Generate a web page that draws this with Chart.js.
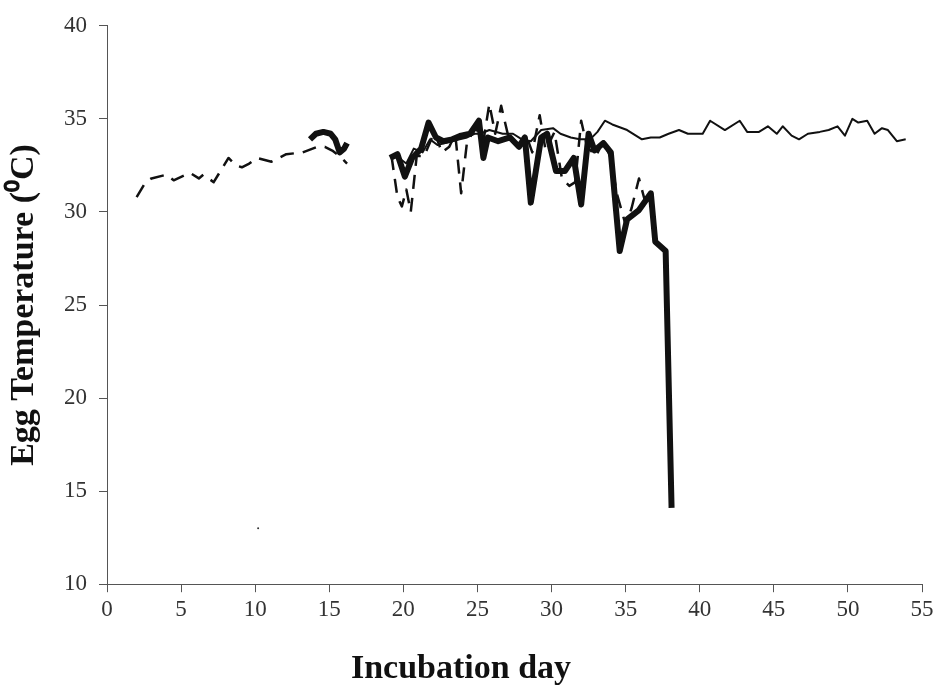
<!DOCTYPE html>
<html>
<head>
<meta charset="utf-8">
<script src="https://cdn.jsdelivr.net/npm/chart.js@4/dist/chart.umd.min.js"></script>
<style>
  body { margin: 0; background: #fff; }
  #wrap { width: 941px; height: 695px; }
</style>
</head>
<body>
<div id="wrap"><canvas id="egg-chart" width="941" height="695"></canvas></div>
<script>
'use strict';

// ---- data ----
const xTicks = [0, 5, 10, 15, 20, 25, 30, 35, 40, 45, 50, 55];
const yTicks = [10, 15, 20, 25, 30, 35, 40];

// dashed egg (null = no logging between day 16 and 19)
const dashedDays = [2.0, 2.6, 3.0, 4.0, 4.5, 5.6, 6.2, 6.5, 7.2, 8.2, 8.7, 9.1, 9.6, 10.1, 11.1, 12.1, 13.2, 14.2, 14.7, 15.2, 15.7, 16.2,
	17.5,
	19.2, 19.6, 19.9, 20.2, 20.5, 20.9, 21.4, 22.1, 22.6, 23.1, 23.5, 23.9, 24.3, 24.9, 25.4, 25.8, 26.2, 26.6, 27.1, 27.7,
	28.3, 28.7, 29.2, 29.6, 30.2, 30.7, 31.2, 31.6, 32.0, 32.4, 33.0, 33.5, 34.0, 34.4, 35.0, 35.4, 35.9, 36.3];
const dashedTemps = [30.8, 31.6, 31.8, 32.0, 31.7, 32.1, 31.8, 32.0, 31.6, 32.9, 32.5, 32.4, 32.6, 32.9, 32.7, 33.1, 33.2, 33.5, 33.5, 33.3, 33.0, 32.6,
	null,
	33.0, 30.8, 30.3, 31.2, 30.0, 33.0, 33.0, 34.3, 33.2, 33.5, 34.2, 31.0, 33.8, 34.5, 33.8, 35.8, 34.2, 35.7, 34.0, 33.6,
	34.1, 33.2, 35.2, 33.3, 34.3, 31.8, 31.4, 31.6, 34.9, 33.5, 33.0, 33.8, 32.9, 31.0, 29.3, 30.2, 31.8, 30.6];

// thick egg, dies around day 38
const thickDays = [13.7, 14.1, 14.6, 15.1, 15.4, 15.7, 16.0, 16.2,
	17.5,
	19.1, 19.6, 20.1, 20.6, 21.2, 21.7, 22.2, 22.7, 23.3, 23.9, 24.5, 25.1, 25.4, 25.7, 26.4, 27.2, 27.8, 28.2, 28.6,
	29.3, 29.7, 30.3, 30.9, 31.5, 32.0, 32.5, 32.9, 33.5, 34.0, 34.6, 35.1, 35.9, 36.7, 37.0, 37.7, 38.1];
const thickTemps = [33.9, 34.2, 34.3, 34.2, 33.9, 33.2, 33.4, 33.7,
	null,
	32.9, 33.1, 31.9, 32.9, 33.4, 34.8, 34.0, 33.8, 33.9, 34.1, 34.2, 34.9, 32.9, 34.0, 33.8, 34.0, 33.5, 34.0, 30.5,
	34.0, 34.2, 32.2, 32.2, 32.9, 30.4, 34.2, 33.3, 33.7, 33.2, 27.9, 29.6, 30.1, 31.0, 28.4, 27.9, 14.1];

// thin egg, logged to the end
const thinDays = [19.2, 19.7, 20.2, 20.7, 21.3, 21.8, 22.3, 22.8, 23.3, 23.8, 24.3, 24.8, 25.2, 25.8, 26.7, 27.4, 28.0, 28.6,
	29.3, 30.1, 30.6, 31.3, 31.9, 32.6, 33.1, 33.6, 34.1, 35.1, 36.1, 36.7, 37.3, 37.9, 38.6, 39.2, 39.7, 40.2, 40.7,
	41.7, 42.7, 43.2, 44.0, 44.6, 45.2, 45.6, 46.2, 46.7, 47.3, 48.1, 48.7, 49.3, 49.8, 50.3, 50.7, 51.3, 51.8, 52.3,
	52.7, 53.3, 53.9];
const thinTemps = [33.0, 32.9, 32.6, 33.4, 33.2, 33.9, 33.6, 33.7, 33.8, 33.9, 34.0, 34.2, 34.2, 34.4, 34.2, 34.2, 33.9, 33.8,
	34.4, 34.5, 34.2, 34.0, 33.9, 33.9, 34.3, 34.9, 34.7, 34.4, 33.9, 34.0, 34.0, 34.2, 34.4, 34.2, 34.2, 34.2, 34.9,
	34.4, 34.9, 34.3, 34.3, 34.6, 34.2, 34.6, 34.1, 33.9, 34.2, 34.3, 34.4, 34.6, 34.1, 35.0, 34.8, 34.9, 34.2, 34.5,
	34.4, 33.8, 33.9];

// lone reading near the bottom
const strayDays = [10.2];
const strayTemps = [13.0];

const INK = '#111';
const AXIS = '#555';
const SERIF = "'Liberation Serif', 'Times New Roman', serif";

function toPoints(days, temps) {
	return days.map((d, i) => ({ x: d, y: temps[i] }));
}

function lineSet(days, temps, width, dash) {
	return {
		data: toPoints(days, temps),
		borderColor: INK,
		borderWidth: width,
		borderDash: dash,
		borderJoinStyle: 'round',
		borderCapStyle: 'butt',
		pointRadius: 0,
		tension: 0,
		spanGaps: false,
		fill: false,
	};
}

function getDatasets() {
	return [
		lineSet(thinDays, thinTemps, 2, []),
		lineSet(dashedDays, dashedTemps, 2.5, [14, 9]),
		lineSet(thickDays, thickTemps, 6, []),
		{
			data: toPoints(strayDays, strayTemps),
			showLine: false,
			pointRadius: 1,
			pointBackgroundColor: '#333',
			pointBorderWidth: 0,
		},
	];
}

function getX() {
	return {
		type: 'linear',
		min: 0,
		max: 55,
		afterBuildTicks: (axis) => { axis.ticks = xTicks.map((v) => ({ value: v })); },
		afterFit: (axis) => { axis.height = 50; },
		ticks: {
			color: '#333',
			padding: 4,
			maxRotation: 0,
			font: { family: SERIF, size: 23 },
		},
		grid: { display: true, drawOnChartArea: false, drawTicks: true, tickLength: 8, color: AXIS },
		border: { display: true, color: AXIS, width: 1 },
	};
}

function getY() {
	return {
		min: 10,
		max: 40,
		afterBuildTicks: (axis) => { axis.ticks = yTicks.map((v) => ({ value: v })); },
		afterFit: (axis) => { axis.width = 107; },
		ticks: {
			color: '#333',
			padding: 12,
			font: { family: SERIF, size: 23 },
		},
		grid: { display: true, drawOnChartArea: false, drawTicks: true, tickLength: 8, color: AXIS },
		border: { display: true, color: AXIS, width: 1 },
		title: {
			display: true,
			text: 'Egg Temperature (⁰C)',
			color: INK,
			padding: { top: 4, bottom: 0 },
			font: { family: SERIF, size: 34, weight: 'bold' },
		},
	};
}

// x axis caption is centred on the whole figure, like the original
function getPlugins() {
	return {
		legend: { display: false },
		tooltip: { enabled: false },
		title: {
			display: true,
			position: 'bottom',
			text: 'Incubation day',
			color: INK,
			padding: { top: 15, bottom: 5 },
			font: { family: SERIF, size: 34, weight: 'bold', lineHeight: 1.2 },
		},
	};
}

function makeEggChart() {
	const ctx = document.querySelector('#egg-chart').getContext('2d');
	const configuration = {
		type: 'line',
		data: { datasets: getDatasets() },
		options: {
			responsive: false,
			animation: false,
			layout: { padding: { top: 18, right: 19, bottom: 0, left: 0 } },
			plugins: getPlugins(),
			scales: { x: getX(), y: getY() },
		},
	};
	return new Chart(ctx, configuration);
}

makeEggChart();
</script>
</body>
</html>
